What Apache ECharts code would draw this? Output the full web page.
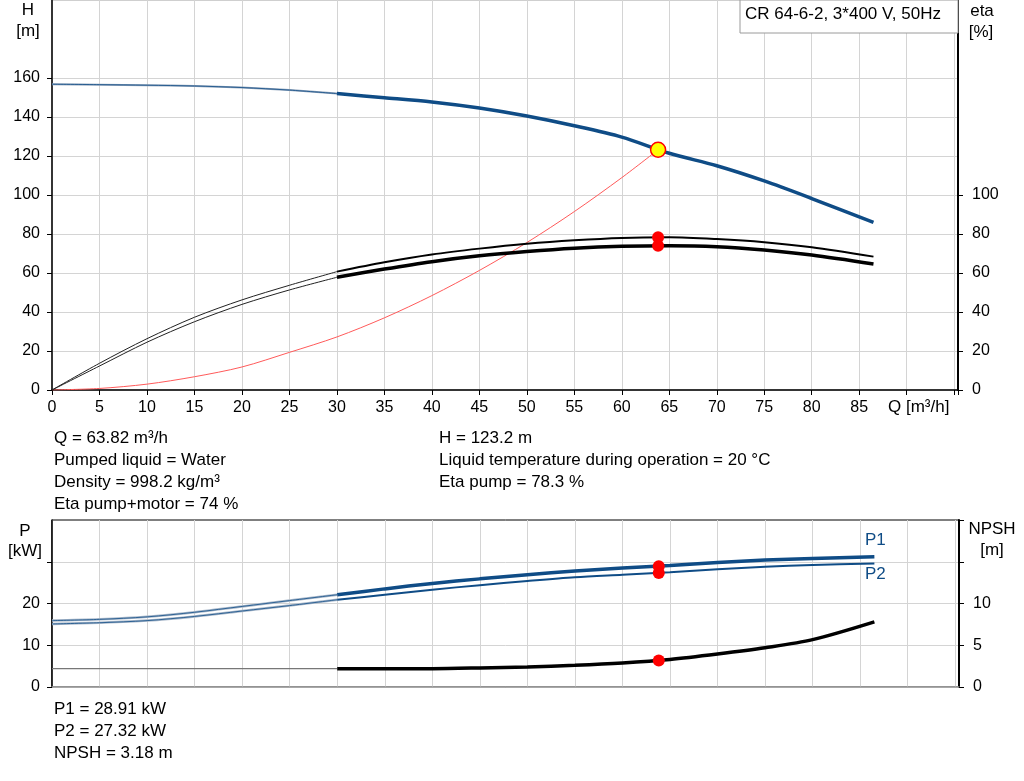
<!DOCTYPE html>
<html><head><meta charset="utf-8">
<script src="https://cdn.jsdelivr.net/npm/echarts@6/dist/echarts.min.js"></script>
<style>html,body{margin:0;padding:0;background:#fff}#c{width:1024px;height:781px}</style>
</head><body><div id="c"></div>
<script>
// ---- data ----
const qLow = [0, 5, 10, 15, 20, 25, 30];
const qHigh = [30, 35, 40, 45, 50, 55, 60, 65, 70, 75, 80, 86.5];
const hLow = [156.8, 156.6, 156.3, 155.9, 155.1, 153.8, 152.0];
const hHigh = [152.0, 149.9, 147.7, 144.6, 140.5, 135.5, 129.7, 121.4, 115.0, 107.2, 98.2, 86.0];
const etaPumpLow = [0, 13.7, 26.3, 37.3, 46.2, 53.7, 60.7];
const etaPumpHigh = [60.7, 65.5, 69.5, 72.5, 75.0, 76.8, 78.0, 78.3, 77.4, 75.8, 73.2, 68.4];
const etaTotLow = [0, 12.3, 24.5, 35.0, 43.9, 51.3, 57.8];
const etaTotHigh = [57.8, 62.0, 65.8, 68.8, 71.0, 72.7, 73.7, 74.0, 73.5, 71.8, 69.2, 64.6];
const qSys = [0, 5, 10, 15, 20, 25, 30, 35, 40, 45, 50, 55, 60, 63.82];
const hSys = [0, 0.8, 3.0, 6.8, 11.8, 19.3, 27.2, 37.0, 48.4, 61.3, 75.6, 91.5, 108.9, 123.2];
const p1Low = [15.9, 16.2, 16.8, 17.9, 19.3, 20.7, 22.1];
const p2Low = [15.1, 15.4, 15.9, 16.9, 18.2, 19.5, 20.9];
const p1High = [22.1, 23.5, 24.8, 25.9, 26.9, 27.8, 28.5, 29.1, 29.8, 30.4, 30.8, 31.2];
const p2High = [20.9, 22.1, 23.3, 24.4, 25.4, 26.3, 26.9, 27.5, 28.2, 28.8, 29.2, 29.6];
const npshLow = [2.2, 2.2, 2.2, 2.2, 2.2, 2.2, 2.2];
const npshHigh = [2.2, 2.2, 2.2, 2.28, 2.4, 2.6, 2.88, 3.3, 3.95, 4.7, 5.67, 7.8];
const duty = {q: 63.82, h: 123.2, etaPump: 78.3, etaTot: 74, p1: 28.91, p2: 27.32, npsh: 3.18};
const qTicks = [0, 5, 10, 15, 20, 25, 30, 35, 40, 45, 50, 55, 60, 65, 70, 75, 80, 85];
const hTicks = [0, 20, 40, 60, 80, 100, 120, 140, 160];
const etaTicks = [0, 20, 40, 60, 80, 100];
const pLabels = [0, 10, 20];
const pTicks = [0, 10, 20, 30];
const npshLabels = [0, 5, 10];
const npshTicks = [0, 5, 10, 15, 20];
const infoLeft = ['Q = 63.82 m³/h', 'Pumped liquid = Water', 'Density = 998.2 kg/m³', 'Eta pump+motor = 74 %'];
const infoRight = ['H = 123.2 m', 'Liquid temperature during operation = 20 °C', 'Eta pump = 78.3 %'];
const infoBottom = ['P1 = 28.91 kW', 'P2 = 27.32 kW', 'NPSH = 3.18 m'];
const title = 'CR 64-6-2, 3*400 V, 50Hz';

const pairs = (xs, ys) => xs.map((x, i) => [x, ys[i]]);
const BLUE = '#0f4c86';
const FONT = 'Liberation Sans, Arial, sans-serif';
const FS = 17;
const TFS = 16;

const chart = echarts.init(document.getElementById('c'));
function line(name, xi, yi, data, color, width, z) {
  return {name, type: 'line', xAxisIndex: xi, yAxisIndex: yi, data, showSymbol: false, symbol: 'none',
    smooth: 0.3, lineStyle: {color, width}, z: z || 2, silent: true, animation: false};
}
function dot(xi, yi, data, color, border, size, z) {
  return {type: 'scatter', xAxisIndex: xi, yAxisIndex: yi, data, symbol: 'circle', symbolSize: size,
    itemStyle: {color, borderColor: border, borderWidth: border ? 1.5 : 0, opacity: 1}, z: z || 5, silent: true, animation: false};
}
const gridLine = {show: true, lineStyle: {color: '#d4d4d4', width: 1}};
const tickLbl = {fontFamily: FONT, fontSize: TFS, color: '#000'};

const texts = [];
infoLeft.forEach((t, i) => texts.push({type: 'text', left: 54, top: 430 + i * 22, style: {text: t, font: FS + 'px ' + FONT, fill: '#000'}}));
infoRight.forEach((t, i) => texts.push({type: 'text', left: 439, top: 430 + i * 22, style: {text: t, font: FS + 'px ' + FONT, fill: '#000'}}));
infoBottom.forEach((t, i) => texts.push({type: 'text', left: 54, top: 701 + i * 22, style: {text: t, font: FS + 'px ' + FONT, fill: '#000'}}));
const axisName = (t, x, y, color) => ({type: 'text', x, y, style: {text: t, font: FS + 'px ' + FONT, fill: color || '#000', textAlign: 'center', textVerticalAlign: 'middle'}, z: 10});

chart.setOption({
  animation: false,
  backgroundColor: '#fff',
  grid: [
    {left: 52, top: 0, width: 906, height: 390, show: true, borderColor: '#a0a0a0', borderWidth: 1},
    {left: 52, top: 520, width: 907, height: 167, show: true, borderColor: '#000', borderWidth: 1}
  ],
  xAxis: [
    {gridIndex: 0, type: 'value', min: 0, max: 95.4, interval: 5,
      axisLine: {show: true, onZero: false, lineStyle: {color: '#000', width: 1.5}},
      axisTick: {show: true, length: 5, lineStyle: {color: '#000'}},
      axisLabel: {...tickLbl, customValues: qTicks, margin: 10},
      splitLine: gridLine},
    {gridIndex: 1, type: 'value', min: 0, max: 95.4, interval: 5,
      axisLine: {show: true, onZero: false, lineStyle: {color: '#999', width: 1.5}},
      axisTick: {show: false}, axisLabel: {show: false}, splitLine: gridLine}
  ],
  yAxis: [
    {gridIndex: 0, type: 'value', min: 0, max: 200, interval: 20, position: 'left',
      axisLine: {show: true, onZero: false, lineStyle: {color: '#000', width: 1.5}},
      axisTick: {show: true, length: 5, customValues: hTicks, lineStyle: {color: '#000'}},
      axisLabel: {...tickLbl, customValues: hTicks, margin: 12}, splitLine: gridLine},
    {gridIndex: 0, type: 'value', min: 0, max: 200, interval: 20, position: 'right',
      axisLine: {show: true, onZero: false, lineStyle: {color: '#000', width: 2}},
      axisTick: {show: true, length: 5, customValues: etaTicks, lineStyle: {color: '#000'}},
      axisLabel: {...tickLbl, customValues: etaTicks, margin: 14}, splitLine: {show: false}},
    {gridIndex: 1, type: 'value', min: 0, max: 40, interval: 10, position: 'left',
      axisLine: {show: true, onZero: false, lineStyle: {color: '#000', width: 1.5}},
      axisTick: {show: true, length: 5, customValues: pTicks, lineStyle: {color: '#000'}},
      axisLabel: {...tickLbl, customValues: pLabels, margin: 12}, splitLine: gridLine},
    {gridIndex: 1, type: 'value', min: 0, max: 20, interval: 5, position: 'right',
      axisLine: {show: true, onZero: false, lineStyle: {color: '#000', width: 2}},
      axisTick: {show: true, length: 5, customValues: npshTicks, lineStyle: {color: '#000'}},
      axisLabel: {...tickLbl, customValues: npshLabels, margin: 14}, splitLine: {show: false}}
  ],
  series: [
    // top chart
    line('sys', 0, 0, pairs(qSys, hSys), '#ff5a5a', 1, 2),
    line('Hlow', 0, 0, pairs(qLow, hLow), '#8fa3bb', 2, 2),
    line('HlowCore', 0, 0, pairs(qLow, hLow), BLUE, 0.8, 3),
    line('H', 0, 0, pairs(qHigh, hHigh), BLUE, 3.5, 3),
    line('etaPumpLow', 0, 1, pairs(qLow, etaPumpLow), '#222', 1, 3),
    line('etaPump', 0, 1, pairs(qHigh, etaPumpHigh), '#000', 2, 3),
    line('etaTotLow', 0, 1, pairs(qLow, etaTotLow), '#222', 1, 3),
    line('etaTot', 0, 1, pairs(qHigh, etaTotHigh), '#000', 3.5, 3),
    dot(0, 1, [[duty.q, duty.etaPump], [duty.q, duty.etaTot]], '#ff0000', null, 12, 6),
    dot(0, 0, [[duty.q, duty.h]], '#ffff00', '#ff0000', 15, 7),
    // bottom chart
    line('p1Low', 1, 2, pairs(qLow, p1Low), '#a9b8ca', 2.5, 2),
    line('p1LowCore', 1, 2, pairs(qLow, p1Low), BLUE, 0.8, 3),
    line('p2Low', 1, 2, pairs(qLow, p2Low), '#a9b8ca', 2.5, 2),
    line('p2LowCore', 1, 2, pairs(qLow, p2Low), BLUE, 0.8, 3),
    line('P1', 1, 2, pairs(qHigh, p1High), BLUE, 3.5, 3),
    line('P2', 1, 2, pairs(qHigh, p2High), BLUE, 2, 3),
    line('npshLow', 1, 3, pairs(qLow, npshLow), '#777', 1.2, 3),
    line('NPSH', 1, 3, pairs(qHigh, npshHigh), '#000', 3.5, 3),
    dot(1, 2, [[duty.q, duty.p1], [duty.q, duty.p2]], '#ff0000', null, 12, 6),
    dot(1, 3, [[duty.q, duty.npsh]], '#ff0000', null, 12, 6)
  ],
  graphic: [
    ...texts,
    axisName('H', 28, 10), axisName('[m]', 28, 31),
    axisName('eta', 982, 11), axisName('[%]', 981, 32),
    {type: 'text', left: 888, top: 399, style: {text: 'Q [m³/h]', font: FS + 'px ' + FONT, fill: '#000'}, z: 10},
    axisName('P', 25, 531), axisName('[kW]', 25, 551),
    axisName('NPSH', 992, 529), axisName('[m]', 992, 550),
    {type: 'text', left: 865, top: 532, style: {text: 'P1', font: FS + 'px ' + FONT, fill: BLUE}, z: 10},
    {type: 'text', left: 865, top: 566, style: {text: 'P2', font: FS + 'px ' + FONT, fill: BLUE}, z: 10},
    {type: 'rect', shape: {x: 740, y: 0, width: 218, height: 33}, style: {fill: '#fff', stroke: '#9a9a9a', lineWidth: 1}, z: 20},
    {type: 'text', left: 745, top: 6, style: {text: title, font: FS + 'px ' + FONT, fill: '#000'}, z: 21}
  ]
});
</script></body></html>
